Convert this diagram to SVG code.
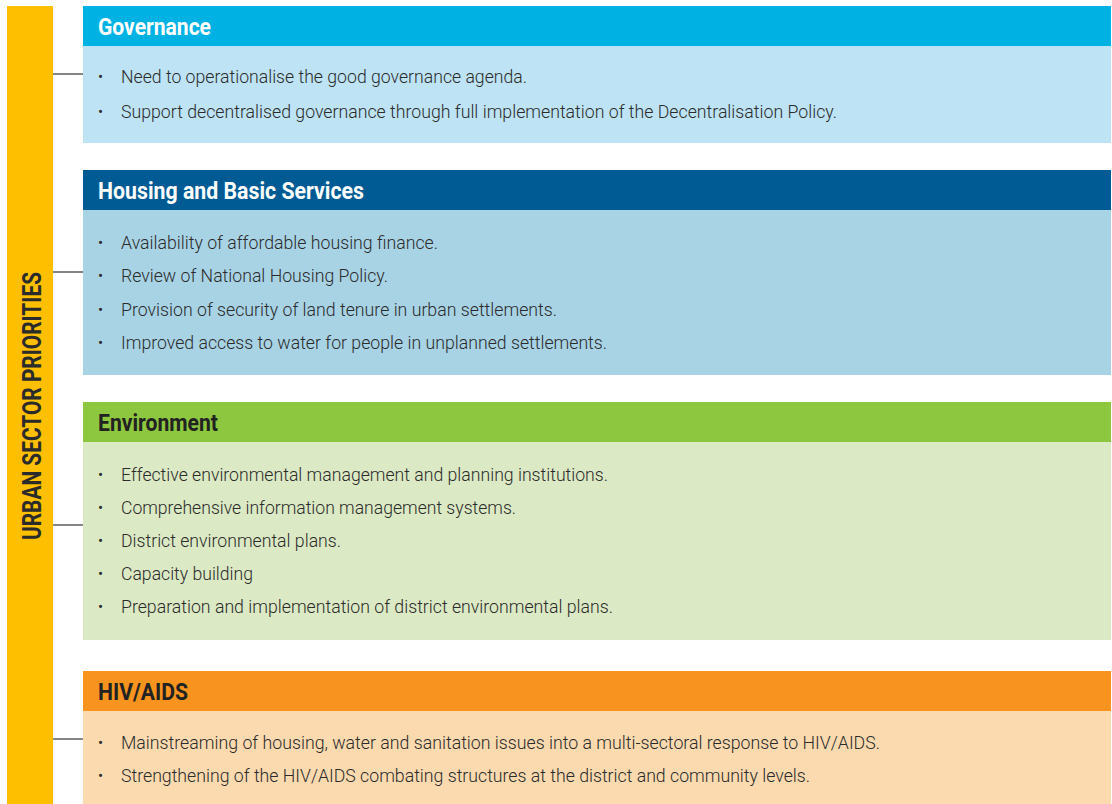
<svg xmlns="http://www.w3.org/2000/svg" width="1112" height="804" viewBox="0 0 1112 804">
<style>
.hd{font-family:Roboto,"Liberation Sans",sans-serif;font-weight:700;font-size:24px}
.it{font-family:Roboto,"Liberation Sans",sans-serif;font-weight:300;font-size:19px;fill:#2b2b2b}
.bu{font-family:Roboto,"Liberation Sans",sans-serif;font-size:15px;fill:#2b2b2b}
.cn{stroke:#333;stroke-width:1.2;fill:none}
</style>
<rect x="0" y="0" width="1112" height="804" fill="#fff"/>
<g id="spine">
<rect x="7" y="6" width="46" height="798" fill="#fdbf00"/>
<text transform="translate(41,406) rotate(-90)" text-anchor="middle" class="hd" style="font-size:25px" fill="#2b2b2b" textLength="268" lengthAdjust="spacingAndGlyphs">URBAN SECTOR PRIORITIES</text>
</g>
<g id="connectors">
<line class="cn" x1="53" y1="74" x2="83" y2="74"/>
<line class="cn" x1="53" y1="272" x2="83" y2="272"/>
<line class="cn" x1="53" y1="525" x2="83" y2="525"/>
<line class="cn" x1="53" y1="739" x2="83" y2="739"/>
</g>
<g id="governance">
<rect x="83" y="6" width="1028" height="40" fill="#00b2e3"/>
<rect x="83" y="46" width="1028" height="97" fill="#bde3f5"/>
<text x="98" y="35" class="hd" fill="#fff" textLength="113" lengthAdjust="spacingAndGlyphs">Governance</text>
<text x="98" y="82" class="bu">•</text>
<text x="121" y="83" class="it" textLength="406" lengthAdjust="spacingAndGlyphs">Need to operationalise the good governance agenda.</text>
<text x="98" y="117" class="bu">•</text>
<text x="121" y="118" class="it" textLength="716" lengthAdjust="spacingAndGlyphs">Support decentralised governance through full implementation of the Decentralisation Policy.</text>
</g>
<g id="housing">
<rect x="83" y="170" width="1028" height="40" fill="#005b94"/>
<rect x="83" y="210" width="1028" height="165" fill="#a8d3e5"/>
<text x="98" y="199" class="hd" fill="#fff" textLength="266" lengthAdjust="spacingAndGlyphs">Housing and Basic Services</text>
<text x="98" y="248" class="bu">•</text>
<text x="121" y="249" class="it" textLength="317" lengthAdjust="spacingAndGlyphs">Availability of affordable housing finance.</text>
<text x="98" y="281" class="bu">•</text>
<text x="121" y="282" class="it" textLength="267" lengthAdjust="spacingAndGlyphs">Review of National Housing Policy.</text>
<text x="98" y="315" class="bu">•</text>
<text x="121" y="316" class="it" textLength="436" lengthAdjust="spacingAndGlyphs">Provision of security of land tenure in urban settlements.</text>
<text x="98" y="348" class="bu">•</text>
<text x="121" y="349" class="it" textLength="486" lengthAdjust="spacingAndGlyphs">Improved access to water for people in unplanned settlements.</text>
</g>
<g id="environment">
<rect x="83" y="402" width="1028" height="40" fill="#8dc63f"/>
<rect x="83" y="442" width="1028" height="198" fill="#dbe9c4"/>
<text x="98" y="431" class="hd" fill="#222" textLength="120" lengthAdjust="spacingAndGlyphs">Environment</text>
<text x="98" y="480" class="bu">•</text>
<text x="121" y="481" class="it" textLength="487" lengthAdjust="spacingAndGlyphs">Effective environmental management and planning institutions.</text>
<text x="98" y="513" class="bu">•</text>
<text x="121" y="514" class="it" textLength="395" lengthAdjust="spacingAndGlyphs">Comprehensive information management systems.</text>
<text x="98" y="546" class="bu">•</text>
<text x="121" y="547" class="it" textLength="220" lengthAdjust="spacingAndGlyphs">District environmental plans.</text>
<text x="98" y="579" class="bu">•</text>
<text x="121" y="580" class="it" textLength="132" lengthAdjust="spacingAndGlyphs">Capacity building</text>
<text x="98" y="612" class="bu">•</text>
<text x="121" y="613" class="it" textLength="492" lengthAdjust="spacingAndGlyphs">Preparation and implementation of district environmental plans.</text>
</g>
<g id="hivaids">
<rect x="83" y="671" width="1028" height="40" fill="#f7931e"/>
<rect x="83" y="711" width="1028" height="93" fill="#fcdab0"/>
<text x="98" y="700" class="hd" fill="#222" textLength="90" lengthAdjust="spacingAndGlyphs">HIV/AIDS</text>
<text x="98" y="748" class="bu">•</text>
<text x="121" y="749" class="it" textLength="759" lengthAdjust="spacingAndGlyphs">Mainstreaming of housing, water and sanitation issues into a multi-sectoral response to HIV/AIDS.</text>
<text x="98" y="781" class="bu">•</text>
<text x="121" y="782" class="it" textLength="689" lengthAdjust="spacingAndGlyphs">Strengthening of the HIV/AIDS combating structures at the district and community levels.</text>
</g>
</svg>
